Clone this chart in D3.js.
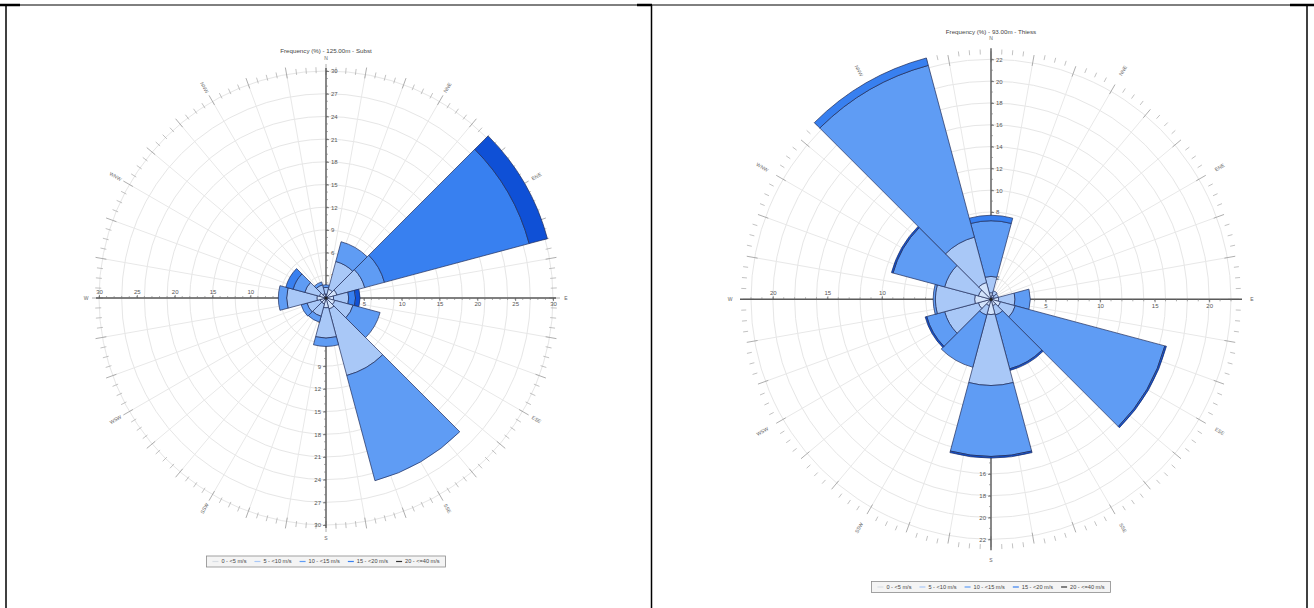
<!DOCTYPE html>
<html><head><meta charset="utf-8">
<script src="https://cdn.jsdelivr.net/npm/d3@7"></script>
<style>
body{margin:0;background:#fff}
svg{display:block}
text{font-family:"Liberation Sans",Arial,sans-serif}
</style>
</head><body>
<svg id="chart" width="1314" height="608"></svg>
<script>
// ---------------- data ----------------
const directions = [0, 30, 60, 90, 120, 150, 180, 210, 240, 270, 300, 330];
const dirLabels = ["N", "NNE", "ENE", "E", "ESE", "SSE", "S", "SSW", "WSW", "W", "WNW", "NNW"];
const speedBins = ["0 - <5 m/s", "5 - <10 m/s", "10 - <15 m/s", "15 - <20 m/s", "20 - <=40 m/s"];

// Left rose: 125.00m - Subst (frequency % per speed bin, per direction)
const leftBin0 = [0.5, 1.2, 1.5, 1.0, 1.2, 1.5, 1.3, 0.8, 0.8, 1.2, 0.9, 0.6];
const leftBin1 = [0.9, 3.8, 3.8, 2.0, 2.5, 9.1, 4.0, 1.7, 1.8, 4.0, 2.0, 1.2];
const leftBin2 = [0.35, 2.7, 2.7, 0, 3.7, 14.4, 1.1, 0.8, 0.8, 1.1, 1.6, 0.4];
const leftBin3 = [0, 0, 19.8, 0.9, 0, 0, 0, 0, 0, 0, 1.0, 0];
const leftBin4 = [0, 0, 2.5, 0.6, 0, 0, 0, 0, 0, 0, 0, 0];

// Right rose: 93.00m - Thiess
const rightBin0 = [0.6, 0.4, 0.3, 0.7, 0.9, 0.6, 1.4, 0.6, 1.2, 1.5, 1.2, 1.6];
const rightBin1 = [1.5, 0.4, 0.4, 1.5, 1.4, 0.9, 6.5, 0.9, 3.2, 3.6, 3.2, 4.3];
const rightBin2 = [5.1, 0, 0, 1.4, 14.2, 5.1, 6.5, 4.95, 1.7, 0.2, 4.9, 16.3];
const rightBin3 = [0.5, 0, 0, 0, 0, 0, 0, 0, 0, 0, 0, 0.7];
const rightBin4 = [0, 0, 0, 0, 0.15, 0.15, 0.15, 0, 0.15, 0, 0.15, 0];

const leftTitle = "Frequency (%) - 125.00m - Subst";
const rightTitle = "Frequency (%) - 93.00m - Thiess";

const leftMax = 30, leftVTicks = [3,6,9,12,15,18,21,24,27,30], leftHTicks = [5,10,15,20,25,30];
const rightMax = 22, rightVTicks = [2,4,6,8,10,12,14,16,18,20,22], rightHTicks = [5,10,15,20];

// ---------------- styles ----------------
const binColors = ["#d3e3fb", "#a9c8f7", "#5f9cf4", "#3880f0", "#0f50d6"];
const swatchColors = ["#d8dde3", "#a9c8f7", "#5f9cf4", "#3880f0", "#333333"];
const outline = "#1f2d5a";

const svg = d3.select("#chart");
svg.append("rect").attr("width", 1314).attr("height", 608).attr("fill", "#fff");

// panel borders
const borders = svg.append("g").attr("stroke", "#000").attr("fill", "none");
borders.append("line").attr("x1", 6).attr("y1", 5).attr("x2", 1307).attr("y2", 5).attr("stroke-width", 1);
borders.append("line").attr("x1", 6).attr("y1", 5).attr("x2", 6).attr("y2", 608).attr("stroke-width", 1.5);
borders.append("line").attr("x1", 651.5).attr("y1", 5).attr("x2", 651.5).attr("y2", 608).attr("stroke-width", 1.5);
borders.append("line").attr("x1", 1307).attr("y1", 5).attr("x2", 1307).attr("y2", 608).attr("stroke-width", 1.5);
borders.append("line").attr("x1", 0).attr("y1", 5).attr("x2", 20).attr("y2", 5).attr("stroke-width", 2.5);
borders.append("line").attr("x1", 637).attr("y1", 5).attr("x2", 652).attr("y2", 5).attr("stroke-width", 2.5);
borders.append("line").attr("x1", 1290).attr("y1", 5).attr("x2", 1314).attr("y2", 5).attr("stroke-width", 2.5);

function drawRose(cfg) {
  const g = svg.append("g");
  const {cx, cy, R, max} = cfg;
  const r = d3.scaleLinear().domain([0, max]).range([0, R]);
  const rad = d => d * Math.PI / 180;

  // grid circles
  const gridVals = d3.range(cfg.gridStep, max + 0.001, cfg.gridStep);
  g.append("g").selectAll("circle").data(gridVals).join("circle")
    .attr("cx", cx).attr("cy", cy).attr("r", d => r(d))
    .attr("fill", "none").attr("stroke", "#e6e6e6").attr("stroke-width", 1);

  // spokes every 10 degrees
  const spokes = d3.range(0, 360, 10);
  g.append("g").selectAll("line").data(spokes).join("line")
    .attr("x1", cx).attr("y1", cy)
    .attr("x2", d => cx + R * Math.sin(rad(d)))
    .attr("y2", d => cy - R * Math.cos(rad(d)))
    .attr("stroke", "#e8e8e8").attr("stroke-width", 1);

  // outer tick ring
  const minor = d3.range(0, 360, 2.5).filter(d => d % 10 !== 0);
  g.append("g").selectAll("line").data(minor).join("line")
    .attr("x1", d => cx + (R + cfg.minIn) * Math.sin(rad(d)))
    .attr("y1", d => cy - (R + cfg.minIn) * Math.cos(rad(d)))
    .attr("x2", d => cx + (R + cfg.minOut) * Math.sin(rad(d)))
    .attr("y2", d => cy - (R + cfg.minOut) * Math.cos(rad(d)))
    .attr("stroke", "#a8a8a8").attr("stroke-width", 0.7);
  g.append("g").selectAll("line").data(spokes).join("line")
    .attr("x1", d => cx + (R + cfg.majIn) * Math.sin(rad(d)))
    .attr("y1", d => cy - (R + cfg.majIn) * Math.cos(rad(d)))
    .attr("x2", d => cx + (R + cfg.majOut) * Math.sin(rad(d)))
    .attr("y2", d => cy - (R + cfg.majOut) * Math.cos(rad(d)))
    .attr("stroke", "#999").attr("stroke-width", 0.8);

  // main axis lines
  const ax = g.append("g").attr("stroke", "#5a5a5a").attr("stroke-width", 1.4);
  ax.append("line").attr("x1", cx).attr("y1", cy - cfg.axisExt).attr("x2", cx).attr("y2", cy + cfg.axisExt);
  ax.append("line").attr("x1", cx - cfg.axisExt).attr("y1", cy).attr("x2", cx + cfg.axisExt).attr("y2", cy);

  // minor axis ticks every unit
  const units = d3.range(1, max + 0.001, 1);
  const mt = g.append("g").attr("stroke", "#777").attr("stroke-width", 0.6);
  units.forEach(u => {
    const p = r(u);
    mt.append("line").attr("x1", cx).attr("x2", cx + 2).attr("y1", cy - p).attr("y2", cy - p);
    mt.append("line").attr("x1", cx).attr("x2", cx - 2).attr("y1", cy + p).attr("y2", cy + p);
    mt.append("line").attr("x1", cx + p).attr("x2", cx + p).attr("y1", cy).attr("y2", cy + 2);
    mt.append("line").attr("x1", cx - p).attr("x2", cx - p).attr("y1", cy).attr("y2", cy - 2);
  });

  // d3 axes for labels
  const yN = d3.scaleLinear().domain([0, max]).range([cy, cy - R]);
  const yS = d3.scaleLinear().domain([0, max]).range([cy, cy + R]);
  const xE = d3.scaleLinear().domain([0, max]).range([cx, cx + R]);
  const xW = d3.scaleLinear().domain([0, max]).range([cx, cx - R]);
  const styleAxis = sel => {
    sel.attr("font-size", 6).attr("font-family", "Liberation Sans, Arial, sans-serif").attr("color", "#555");
    sel.select(".domain").remove();
    sel.selectAll(".tick line").attr("stroke-width", 0.7);
  };
  g.append("g").attr("transform", `translate(${cx},0)`)
    .call(d3.axisRight(yN).tickValues(cfg.vTicks).tickSize(3).tickPadding(2).tickFormat(d3.format("d"))).call(styleAxis);
  g.append("g").attr("transform", `translate(${cx},0)`)
    .call(d3.axisLeft(yS).tickValues(cfg.vTicks).tickSize(3).tickPadding(2).tickFormat(d3.format("d"))).call(styleAxis);
  g.append("g").attr("transform", `translate(0,${cy})`)
    .call(d3.axisBottom(xE).tickValues(cfg.hTicks).tickSize(3).tickPadding(1).tickFormat(d3.format("d"))).call(styleAxis);
  g.append("g").attr("transform", `translate(0,${cy})`)
    .call(d3.axisTop(xW).tickValues(cfg.hTicks).tickSize(3).tickPadding(1).tickFormat(d3.format("d"))).call(styleAxis);

  // compass labels
  const cl = g.append("g").attr("font-size", 5).attr("fill", "#666").attr("text-anchor", "middle");
  directions.forEach((d, i) => {
    const card = d % 90 === 0;
    const rr = card ? cfg.cardR : cfg.interR;
    const x = cx + rr * Math.sin(rad(d)), y = cy - rr * Math.cos(rad(d));
    let rot = 0;
    if (!card) rot = d < 180 ? d - 90 : d - 270;
    cl.append("text").attr("transform", `translate(${x},${y}) rotate(${rot})`)
      .attr("dy", "0.35em").text(dirLabels[i]);
  });

  // title
  g.append("text").attr("x", cx).attr("y", cfg.titleY).attr("text-anchor", "middle")
    .attr("font-size", 6.2).attr("fill", "#444").text(cfg.title);

  // sectors
  const arc = d3.arc();
  const sg = g.append("g");
  directions.forEach((d, i) => {
    let cum = 0;
    cfg.bins.forEach((bin, b) => {
      const v = bin[i];
      if (v <= 0) return;
      const path = arc({innerRadius: r(cum), outerRadius: r(cum + v), startAngle: rad(d - 15), endAngle: rad(d + 15)});
      sg.append("path").attr("transform", `translate(${cx},${cy})`).attr("d", path)
        .attr("fill", binColors[b]).attr("stroke", outline).attr("stroke-width", 0.7).attr("stroke-linejoin", "round");
      cum += v;
    });
  });
  g.append("circle").attr("cx", cx).attr("cy", cy).attr("r", 1.6).attr("fill", "#222");

  // legend
  const lg = g.append("g");
  const items = [];
  let x = 0;
  speedBins.forEach((s, i) => {
    const it = lg.append("g");
    it.append("line").attr("x1", 0).attr("x2", 6).attr("y1", 0).attr("y2", 0)
      .attr("stroke", swatchColors[i]).attr("stroke-width", 1.2);
    const t = it.append("text").attr("x", 9).attr("y", 0).attr("dy", "0.35em")
      .attr("font-size", 5.6).attr("fill", "#444").text(s);
    const w = 9 + t.node().getComputedTextLength();
    items.push({it, x});
    x += w + 8;
  });
  const totalW = x - 8 + 12;
  const lx = cx - totalW / 2, ly = cfg.legendY;
  lg.insert("rect", ":first-child").attr("x", lx).attr("y", ly).attr("width", totalW).attr("height", 11)
    .attr("fill", "#f4f4f4").attr("stroke", "#8c8c8c").attr("stroke-width", 0.8);
  items.forEach(o => o.it.attr("transform", `translate(${lx + 6 + o.x},${ly + 5.5})`));
}

drawRose({
  cx: 326, cy: 298, R: 227, max: leftMax, gridStep: 3,
  vTicks: leftVTicks, hTicks: leftHTicks, axisExt: 230,
  minIn: -2, minOut: 4, majIn: -4, majOut: 7,
  cardR: 240, interR: 243, title: leftTitle, titleY: 53, legendY: 556,
  bins: [leftBin0, leftBin1, leftBin2, leftBin3, leftBin4]
});

drawRose({
  cx: 991, cy: 299.3, R: 240, max: rightMax, gridStep: 2,
  vTicks: rightVTicks, hTicks: rightHTicks, axisExt: 251,
  minIn: 5, minOut: 10, majIn: -3, majOut: 8,
  cardR: 261, interR: 264, title: rightTitle, titleY: 34, legendY: 581.5,
  bins: [rightBin0, rightBin1, rightBin2, rightBin3, rightBin4]
});
</script>
</body></html>
